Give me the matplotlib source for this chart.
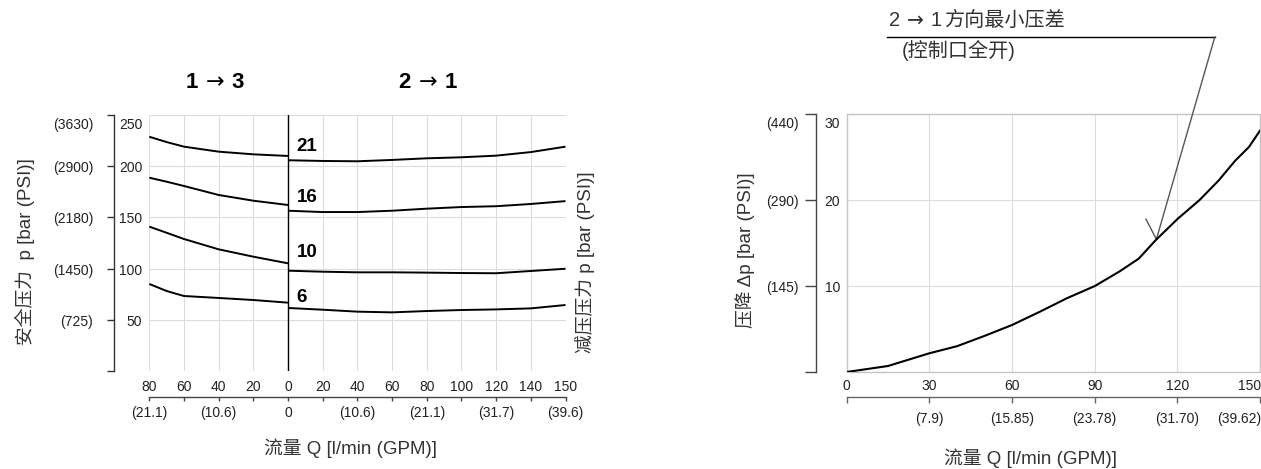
import numpy as np
import matplotlib
matplotlib.use('Agg')
import matplotlib.pyplot as plt
from matplotlib import transforms
from matplotlib.patches import Rectangle

plt.rcParams['font.family'] = ['Liberation Sans', 'Noto Sans CJK SC', 'DejaVu Sans']
plt.rcParams['mathtext.fontset'] = 'dejavusans'

W, H = 1261, 469
PT = 0.72  # points per pixel at dpi 100
ARROW = r'$\,\rightarrow\,$'

# ---- left chart: 1 -> 3 (relief) and 2 -> 1 (reducing) ----
flow_13 = [80, 70, 60, 40, 20, 0]
relief_21 = [229, 223.8, 219.3, 214.4, 211.8, 210.2]
relief_16 = [188.9, 185, 180.8, 172, 166.4, 162.2]
relief_10 = [141, 135, 128.9, 118.8, 111.6, 105.1]
relief_6 = [84.9, 78, 73.1, 71.2, 69.2, 66.6]

flow_21 = [0, 20, 40, 60, 80, 100, 120, 140, 150]
reduce_21 = [206, 205.3, 205, 206.3, 207.9, 208.9, 210.5, 214, 219.3]
reduce_16 = [156.6, 155.3, 155.3, 156.6, 158.6, 160.2, 161, 163.2, 166]
reduce_10 = [97.9, 96.9, 96.3, 96.3, 96, 95.6, 95.4, 97.6, 99.8]
reduce_6 = [61.4, 59.7, 57.8, 57.1, 58.4, 59.4, 60, 61, 64.3]

curve_names = ['21', '16', '10', '6']
curve_label_p = [219, 170, 115.5, 72]

bar_ticks_l = [0, 50, 100, 150, 200, 250]
bar_labels_l = ['', '50', '100', '150', '200', '250']
psi_labels_l = ['', '(725)', '(1450)', '(2180)', '(2900)', '(3630)']
flow_ticks_l = [-80, -60, -40, -20, 0, 20, 40, 60, 80, 100, 120, 140, 150]
flow_labels_l = ['80', '60', '40', '20', '0', '20', '40', '60', '80', '100', '120', '140', '150']
gpm_labels_l = ['(21.1)', '', '(10.6)', '', '0', '', '(10.6)', '', '(21.1)', '', '(31.7)', '', '(39.6)']

# ---- right chart: pressure drop 2 -> 1 ----
flow_dp = [0, 15, 30, 40, 50, 60, 70, 80, 90, 99, 106, 112, 120, 128, 135, 141, 146, 150]
dp = [0, 0.7, 2.18, 3.0, 4.2, 5.47, 7.0, 8.6, 10.0, 11.7, 13.2, 15.3, 17.8, 20.0, 22.3, 24.6, 26.2, 28.1]
bar_ticks_r = [0, 10, 20, 30]
bar_labels_r = ['', '10', '20', '30']
psi_labels_r = ['', '(145)', '(290)', '(440)']
flow_ticks_r = [0, 30, 60, 90, 120, 150]
flow_labels_r = ['0', '30', '60', '90', '120', '150']
gpm_labels_r = ['', '(7.9)', '(15.85)', '(23.78)', '(31.70)', '(39.62)']

TXT = '#222222'
GRID = '#dcdcdc'
FS = 10


def fwd(x):
    x = np.asarray(x, dtype=float)
    return np.where(x > 140, 140 + 2 * (x - 140), x)


def inv(x):
    x = np.asarray(x, dtype=float)
    return np.where(x > 140, 140 + (x - 140) / 2, x)


def px_box(left, top, right, bottom):
    return [left / W, 1 - bottom / H, (right - left) / W, (bottom - top) / H]


def y_labels(ax, ticks, bar_lab, psi_lab, spine_out, tick_len, bar_gap, psi_gap):
    tr = transforms.blended_transform_factory(ax.transAxes, ax.transData)
    for i, (t, b, p) in enumerate(zip(ticks, bar_lab, psi_lab)):
        top = i == len(ticks) - 1
        va = 'top' if top else 'center'
        dy = -3 if top else -2
        ax.text(0, t, b, ha='right', va=va, fontsize=FS, color=TXT,
                transform=transforms.offset_copy(tr, fig=fig, x=-bar_gap, y=dy, units='dots'))
        ax.text(0, t, p, ha='right', va=va, fontsize=FS, color=TXT,
                transform=transforms.offset_copy(tr, fig=fig, x=-(spine_out + tick_len + psi_gap), y=dy,
                                                 units='dots'))


def x_labels(ax, ticks, labels, off, last_right=False):
    tr = transforms.blended_transform_factory(ax.transData, ax.transAxes)
    for i, (t, lab) in enumerate(zip(ticks, labels)):
        ha = 'right' if (last_right and i == len(ticks) - 1) else 'center'
        dx = 1 if ha == 'right' else 0
        ax.text(t, 0, lab, ha=ha, va='center', fontsize=FS, color=TXT,
                transform=transforms.offset_copy(tr, fig=fig, x=dx, y=-off, units='dots'))


fig = plt.figure(figsize=(W / 100, H / 100), dpi=100)

# ================= left chart =================
ax = fig.add_axes(px_box(149.3, 115.3, 565.5, 370.7))
ax.set_xscale('function', functions=(fwd, inv))
ax.set_xlim(-80, 150)
ax.set_ylim(0, 250)
ax.set_xticks(flow_ticks_l, [''] * len(flow_ticks_l))
ax.set_yticks(bar_ticks_l, [''] * len(bar_ticks_l))
ax.grid(True, color=GRID, lw=0.8)
ax.set_axisbelow(True)
for s in ['top', 'right']:
    ax.spines[s].set_visible(False)
ax.spines['left'].set_position(('outward', 35 * PT))
ax.spines['left'].set_bounds(0, 250)
ax.spines['left'].set_color('#333333')
ax.spines['left'].set_linewidth(1.0)
ax.spines['bottom'].set_position(('outward', 26 * PT))
ax.spines['bottom'].set_bounds(-80, 150)
ax.spines['bottom'].set_color('#444444')
ax.spines['bottom'].set_linewidth(1.0)
ax.tick_params(axis='y', direction='out', length=7.3 * PT, width=1.0, color='#333333')
ax.tick_params(axis='x', direction='out', length=4 * PT, width=1.0, color='#444444')

ax.axvline(0, color='black', lw=1.0)
neg = -np.array(flow_13)
for left_p, right_p in [(relief_21, reduce_21), (relief_16, reduce_16),
                        (relief_10, reduce_10), (relief_6, reduce_6)]:
    ax.plot(neg, left_p, color='black', lw=1.4, solid_capstyle='butt')
    ax.plot(flow_21, right_p, color='black', lw=1.4, solid_capstyle='butt')
for name, yv in zip(curve_names, curve_label_p):
    ax.text(5, yv, name, ha='left', va='center', fontsize=13.5, fontweight='bold', color='black')

ax.text(-42, 282, '1' + ARROW + '3', ha='center', va='center', fontsize=16, fontweight='bold')
ax.text(81, 282, '2' + ARROW + '1', ha='center', va='center', fontsize=16, fontweight='bold')

y_labels(ax, bar_ticks_l, bar_labels_l, psi_labels_l, 35, 7.3, 7, 14)
x_labels(ax, flow_ticks_l, flow_labels_l, 16.3)
x_labels(ax, flow_ticks_l, gpm_labels_l, 42)

fig.text(25 / W, 1 - 252 / H, '安全压力  p [bar (PSI)]', rotation=90, ha='center', va='center',
         fontsize=13.5, color='#333333')
fig.text(585 / W, 1 - 262 / H, '减压压力 p [bar (PSI)]', rotation=90, ha='center', va='center',
         fontsize=13.5, color='#333333')
fig.text(350 / W, 1 - 448 / H, '流量 Q [l/min (GPM)]', ha='center', va='center',
         fontsize=13.5, color='#333333')

# ================= right chart =================
ax2 = fig.add_axes(px_box(846.7, 114.3, 1260, 372))
ax2.set_xlim(0, 150)
ax2.set_ylim(0, 30)
ax2.set_xticks(flow_ticks_r, [''] * len(flow_ticks_r))
ax2.set_yticks(bar_ticks_r, [''] * len(bar_ticks_r))
ax2.grid(True, color=GRID, lw=0.8)
ax2.set_axisbelow(True)
ax2.add_patch(Rectangle((0, 0), 1, 1, transform=ax2.transAxes, fill=False,
                        ec='#c4c4c4', lw=1.0, clip_on=False, zorder=1.5))
for s in ['top', 'right']:
    ax2.spines[s].set_visible(False)
ax2.spines['left'].set_position(('outward', 30.7 * PT))
ax2.spines['left'].set_bounds(0, 30)
ax2.spines['left'].set_color('#444444')
ax2.spines['left'].set_linewidth(1.0)
ax2.spines['bottom'].set_position(('outward', 25.3 * PT))
ax2.spines['bottom'].set_bounds(0, 150)
ax2.spines['bottom'].set_color('#666666')
ax2.spines['bottom'].set_linewidth(1.0)
ax2.tick_params(axis='y', direction='out', length=11 * PT, width=1.0, color='#444444')
ax2.tick_params(axis='x', direction='out', length=6 * PT, width=1.0, color='#666666')

ax2.plot(flow_dp, dp, color='black', lw=1.5, zorder=3)

y_labels(ax2, bar_ticks_r, bar_labels_r, psi_labels_r, 30.7, 11, 6.7, 6)
x_labels(ax2, flow_ticks_r, flow_labels_r, 14, last_right=True)
x_labels(ax2, flow_ticks_r, gpm_labels_r, 47.3, last_right=True)

# leader for the annotation
lead_x = [14.5, 133.6, 112.4]
lead_y = [39.0, 39.0, 15.45]
ax2.plot(lead_x[:2], lead_y[:2], color='black', lw=1.0, clip_on=False)
ax2.plot(lead_x[1:], lead_y[1:], color='#555555', lw=1.0, clip_on=False)
ax2.plot([108.6, 112.4], [17.8, 15.45], color='#555555', lw=1.0, clip_on=False)
note = ax2.text(14.9, 40.9, '2' + ARROW + '1', ha='left', va='center', fontsize=14.5,
                color='#333333')
ax2.annotate('方向最小压差', xy=(1, 0.5), xycoords=note, xytext=(1, 0), textcoords='offset points',
             ha='left', va='center', fontsize=14.5, color='#333333')
ax2.text(19.9, 37.4, '(控制口全开)', ha='left', va='center', fontsize=14.5, color='#333333')

fig.text(745 / W, 1 - 250 / H, '压降 Δp [bar (PSI)]', rotation=90, ha='center', va='center',
         fontsize=13.5, color='#333333')
fig.text(1030 / W, 1 - 458 / H, '流量 Q [l/min (GPM)]', ha='center', va='center',
         fontsize=13.5, color='#333333')

fig.savefig('out.png', dpi=100)
